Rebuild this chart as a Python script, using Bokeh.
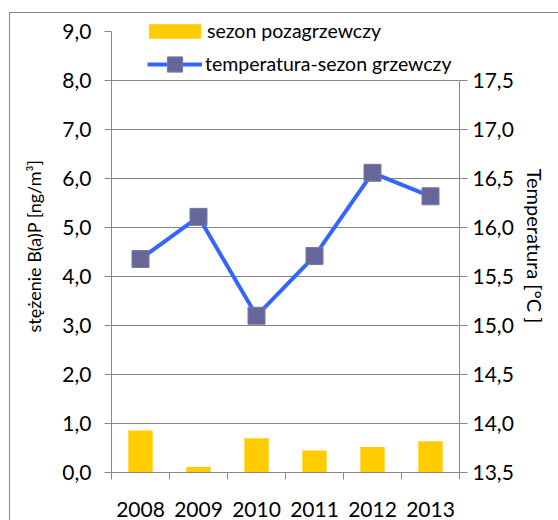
from bokeh.plotting import figure
from bokeh.models import (Range1d, LinearAxis, FixedTicker, CustomJSTickFormatter,
                          Legend, LegendItem, ColumnDataSource)
from bokeh.embed import file_html
from bokeh.resources import INLINE

# ---- data ----
years = ["2008", "2009", "2010", "2011", "2012", "2013"]
bap_nonheating = [0.86, 0.11, 0.70, 0.45, 0.52, 0.64]      # ng/m3, left axis
temp_heating = [15.68, 16.11, 15.10, 15.71, 16.56, 16.32]  # degC, right axis
left_ticks = [0, 1, 2, 3, 4, 5, 6, 7, 8, 9]
grid_ticks = [0, 1, 2, 3, 4, 5, 6, 7, 8]
right_ticks = [13.5, 14.0, 14.5, 15.0, 15.5, 16.0, 16.5, 17.0, 17.5]
label_bars = "sezon pozagrzewczy"
label_line = "temperatura-sezon grzewczy"
left_title = "stężenie B(a)P [ng/m³]"
right_title = "Temperatura [°C ]"

FONT = "Lato"
GRAY = "#878787"
LEFT_MAX = 9.25
RIGHT_MIN = 13.5
RIGHT_MAX = RIGHT_MIN + LEFT_MAX / 2

xs = [i + 0.5 for i in range(len(years))]
src = ColumnDataSource(dict(x=xs, bap=bap_nonheating, temp=temp_heating))

p = figure(width=558, height=520, output_backend="svg", toolbar_location=None,
           x_range=Range1d(0, len(years)), y_range=Range1d(0, LEFT_MAX),
           min_border_left=111, min_border_right=99, min_border_top=19,
           min_border_bottom=48, outline_line_color=None,
           background_fill_color="white", border_fill_alpha=0)
p.extra_y_ranges = {"temp": Range1d(RIGHT_MIN, RIGHT_MAX)}
p.styles = {
    "background-color": "white",
    "background-image": "linear-gradient(#878787,#878787), linear-gradient(#878787,#878787)",
    "background-position": "9px 12px, 9px 12px",
    "background-size": "1px 100%, 100% 1px",
    "background-repeat": "no-repeat",
}

bars = p.vbar(x="x", top="bap", width=0.42, source=src,
              fill_color="#FFCC00", line_color=None)
line = p.line(x="x", y="temp", source=src, y_range_name="temp",
              line_color="#3366FF", line_width=4)
pts = p.scatter(x="x", y="temp", source=src, y_range_name="temp",
                marker="square", size=17, fill_color="#666699",
                line_color="#7777a8", line_width=1)

# grid
p.xgrid.visible = False
p.ygrid.ticker = FixedTicker(ticks=grid_ticks)
p.ygrid.grid_line_color = GRAY
p.ygrid.grid_line_width = 1

fmt = CustomJSTickFormatter(code="return tick.toFixed(1).replace('.', ',');")

# left axis
la = p.yaxis[0]
la.ticker = FixedTicker(ticks=left_ticks)
la.formatter = fmt
la.bounds = (0, 9)
la.axis_line_color = GRAY
la.major_tick_line_color = GRAY
la.major_tick_out = 7
la.major_tick_in = 0
la.minor_tick_line_color = None
la.major_label_text_font = FONT
la.major_label_text_font_size = "21px"
la.major_label_text_color = "black"
la.major_label_standoff = 13
la.axis_label = left_title
la.axis_label_text_font = FONT
la.axis_label_text_font_size = "18px"
la.axis_label_text_font_style = "normal"
la.axis_label_text_color = "black"
la.axis_label_standoff = 14

# right axis
ra = LinearAxis(y_range_name="temp", ticker=FixedTicker(ticks=right_ticks), formatter=fmt)
ra.bounds = (13.5, 17.5)
ra.axis_line_color = GRAY
ra.major_tick_line_color = GRAY
ra.major_tick_out = 8
ra.major_tick_in = 0
ra.minor_tick_line_color = None
ra.major_label_text_font = FONT
ra.major_label_text_font_size = "21px"
ra.major_label_text_color = "black"
ra.major_label_standoff = 5
ra.axis_label = right_title
ra.axis_label_text_font = FONT
ra.axis_label_text_font_size = "20px"
ra.axis_label_text_font_style = "normal"
ra.axis_label_text_color = "black"
ra.axis_label_standoff = 6
p.add_layout(ra, "right")

# bottom axis
xa = p.xaxis[0]
xa.ticker = FixedTicker(ticks=xs, minor_ticks=list(range(len(years) + 1)))
xa.major_label_overrides = {x: y for x, y in zip(xs, years)}
xa.axis_line_color = GRAY
xa.major_tick_line_color = None
xa.major_tick_out = 0
xa.major_tick_in = 0
xa.minor_tick_line_color = GRAY
xa.minor_tick_out = 7
xa.minor_tick_in = 0
xa.major_label_text_font = FONT
xa.major_label_text_font_size = "21px"
xa.major_label_text_color = "black"
xa.major_label_standoff = 22

legA = Legend(items=[LegendItem(label=label_bars, renderers=[bars])],
              location=(31, 428.5), glyph_width=65, glyph_height=18,
              label_height=26, label_standoff=0, padding=0, spacing=0, margin=0,
              border_line_color=None, background_fill_alpha=0,
              label_text_font=FONT, label_text_font_size="19.5px",
              label_text_color="black", level="overlay")
legB = Legend(items=[LegendItem(label=label_line, renderers=[line, pts])],
              location=(36, 389.5), glyph_width=55, glyph_height=38,
              label_standoff=3, padding=0, spacing=0, margin=0,
              border_line_color=None, background_fill_alpha=0,
              label_text_font=FONT, label_text_font_size="19.5px",
              label_text_color="black", level="overlay")
p.add_layout(legA)
p.add_layout(legB)

open("out.html", "w").write(file_html(p, INLINE))
